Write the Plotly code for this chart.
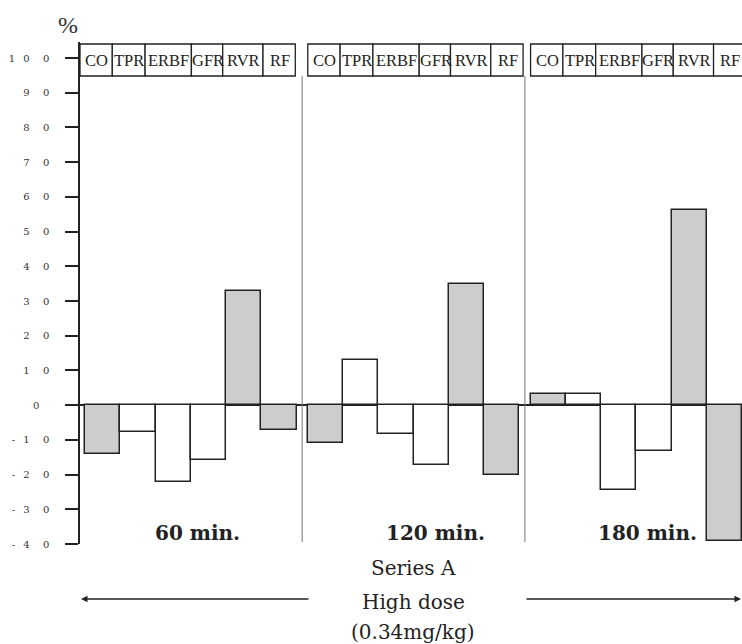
import plotly.graph_objects as go

# ---------------- data ----------------
groups = ["60 min.", "120 min.", "180 min."]
params = ["CO", "TPR", "ERBF", "GFR", "RVR", "RF"]
vals_60 = [-14.1, -7.7, -22.0, -15.8, 33.0, -7.3]
vals_120 = [-10.9, 13.1, -8.2, -17.3, 35.0, -20.0]
vals_180 = [3.2, 3.2, -24.5, -13.2, 56.1, -39.0]
shaded_params = ["CO", "RVR", "RF"]
ytick_vals = [100, 90, 80, 70, 60, 50, 40, 30, 20, 10, 0, -10, -20, -30, -40]
ytick_text = ["1\u2002 0\u2003 0", "9\u2003 0", "8\u2003 0", "7\u2003 0", "6\u2003 0",
              "5\u2003 0", "4\u2003 0", "3\u2003 0", "2\u2003 0", "1\u2003 0",
              "0\u2003", "-\u2002 1\u2003 0", "-\u2002 2\u2003 0", "-\u2002 3\u2003 0",
              "-\u2002 4\u2003 0"]
unit_label = "%"
series_title = "Series A"
dose_label = "High dose"
dose_amount = "(0.34mg/kg)"
all_vals = [vals_60, vals_120, vals_180]

# ---------------- layout constants (style) ----------------
W, H = 742, 644
ML, MR, MT, MB = 80, 0, 42, 100
PW = W - ML - MR
PH = H - MT - MB
BAR_PX = 35.25           # bar width in px
LEAD = 0.142             # offset of first bar from axis (bar units)
GAP = 0.32               # gap between groups (bar units)
Y_RANGE = [-40, 104.61]
CELL_PX = [32.3, 32.8, 46.3, 31.3, 40.3, 32.3]
GREY = "#cdcdcd"
INK = "#222222"
SERIF = "DejaVu Serif"
TIMES = "Liberation Serif"
GROUP_LABEL_PX = [197.5, 435, 647]

x_max = PW / BAR_PX
ppu = PH / (Y_RANGE[1] - Y_RANGE[0])


def py2y(py):
    return Y_RANGE[0] + (MT + PH - py) / ppu


def px2xp(px):
    return (px - ML) / PW


def py2yp(py):
    return (MT + PH - py) / PH


def group_start(g):
    return LEAD + g * (len(params) + GAP)


def note(px, py, text, size, color=INK, family=SERIF):
    return dict(x=px2xp(px), y=py2yp(py), xref="paper", yref="paper",
                xanchor="center", yanchor="middle", text=text, showarrow=False,
                font=dict(family=family, size=size, color=color))


xs, ys, cols = [], [], []
for g, vals in enumerate(all_vals):
    for i, (p, v) in enumerate(zip(params, vals)):
        xs.append(group_start(g) + i + 0.5)
        ys.append(v)
        cols.append(GREY if p in shaded_params else "white")

fig = go.Figure()
fig.add_trace(go.Bar(
    x=xs, y=ys, width=1.0,
    marker=dict(color=cols, line=dict(color=INK, width=1.5)),
    hoverinfo="skip", showlegend=False,
))

shapes = []
annotations = []
box_top = py2y(44)
box_bot = py2y(76)
for g in range(len(groups)):
    left = 0.0 if g == 0 else group_start(g)
    x0 = left
    for i, p in enumerate(params):
        x1 = x0 + CELL_PX[i] / BAR_PX
        shapes.append(dict(type="rect", xref="x", yref="y", x0=x0, x1=x1,
                           y0=box_bot, y1=box_top,
                           line=dict(color=INK, width=1.3), fillcolor="white",
                           layer="above"))
        annotations.append(dict(x=(x0 + x1) / 2 + 0.02, y=py2y(60.5), xref="x", yref="y",
                                xanchor="center", yanchor="middle",
                                text=p, showarrow=False,
                                font=dict(family=TIMES, size=16.5, color=INK)))
        x0 = x1
    if g > 0:
        sx = group_start(g) - GAP / 2
        shapes.append(dict(type="line", xref="x", yref="y", x0=sx, x1=sx,
                           y0=box_bot, y1=py2y(542),
                           line=dict(color="#777777", width=1)))
    annotations.append(note(GROUP_LABEL_PX[g], 533, "<b>%s</b>" % groups[g], 20))

annotations += [
    note(68, 25, unit_label, 24, "#333333", TIMES),
    note(413, 568, series_title, 20),
    note(413, 601.5, dose_label, 20),
    note(413, 631.5, dose_amount, 20),
    dict(x=px2xp(81), y=py2yp(599), xref="paper", yref="paper", text="",
         showarrow=True, ax=229, ay=0, arrowhead=2, arrowsize=1, arrowwidth=1.3,
         arrowcolor=INK, standoff=0),
    dict(x=px2xp(741), y=py2yp(599), xref="paper", yref="paper", text="",
         showarrow=True, ax=-216, ay=0, arrowhead=2, arrowsize=1, arrowwidth=1.3,
         arrowcolor=INK, standoff=0),
]

fig.update_layout(
    width=W, height=H,
    margin=dict(l=ML, r=MR, t=MT, b=MB, pad=0),
    paper_bgcolor="white", plot_bgcolor="white",
    shapes=shapes, annotations=annotations,
    bargap=0, showlegend=False,
    xaxis=dict(range=[0, x_max], showgrid=False, zeroline=False, showline=False,
               showticklabels=False, ticks="", fixedrange=True),
    yaxis=dict(range=Y_RANGE, showgrid=False, showline=True, linecolor=INK,
               linewidth=1.5, zeroline=True, zerolinecolor=INK, zerolinewidth=1.5,
               ticks="outside", ticklen=13, tickwidth=1.5, tickcolor=INK,
               tickvals=ytick_vals, ticktext=ytick_text, ticklabelstandoff=14,
               tickfont=dict(family=SERIF, size=10, color="#333333"),
               fixedrange=True),
)

fig.write_html("out.html")
